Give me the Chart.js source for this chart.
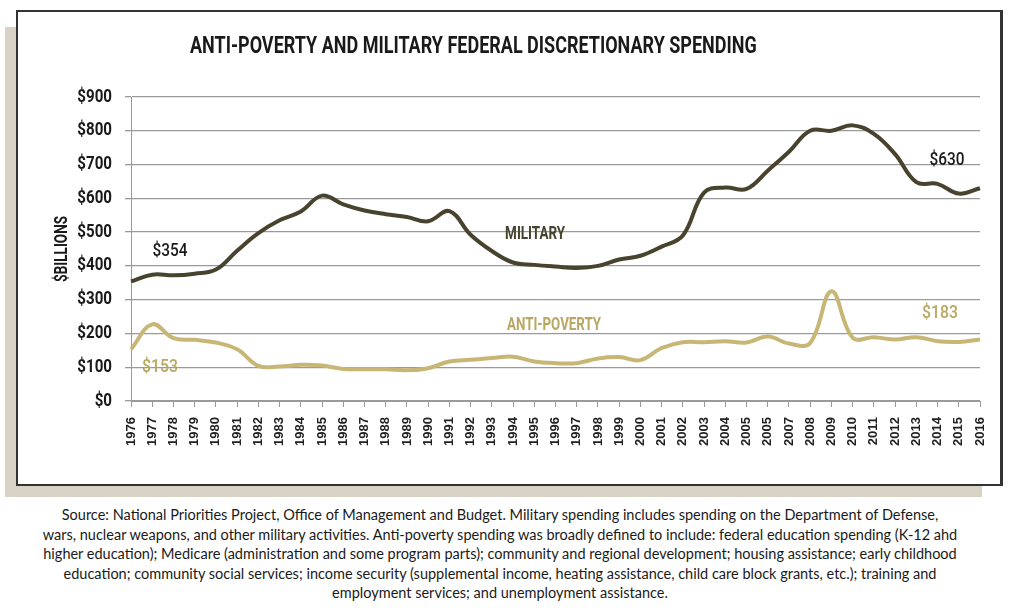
<!DOCTYPE html>
<html>
<head>
<meta charset="utf-8">
<script src="https://cdn.jsdelivr.net/npm/chart.js@4.4.0/dist/chart.umd.min.js"></script>
<style>
  body { margin: 0; background: #fff; width: 1011px; height: 610px; position: relative; overflow: hidden; }
  #shade { position: absolute; left: 5px; top: 27px; width: 977px; height: 470px; background: #d9d3c6; }
  #frame { position: absolute; left: 16px; top: 10px; width: 982px; height: 472px; border: 2px solid #333; border-right-width: 3px; background: #fff; }
  #wrap { position: absolute; left: 0; top: 0; width: 982px; height: 472px; }
  #title { position: absolute; left: 190px; top: 31px; transform-origin: 0 0; white-space: nowrap;
           font-family: Roboto, sans-serif; font-weight: bold; font-size: 24px; color: #1a1a1a; }
  #caption { position: absolute; left: 0; top: 505px; width: 1000px; text-align: center;
             font-family: Lato, 'Noto Sans', sans-serif; font-size: 14.5px; line-height: 19.6px; color: #1a1a1a; }
</style>
</head>
<body>
<div id="shade"></div>
<div id="frame">
  <div id="wrap"><canvas id="chart"></canvas></div>
</div>
<div id="title">ANTI-POVERTY AND MILITARY FEDERAL DISCRETIONARY SPENDING</div>
<div id="caption">
Source: National Priorities Project, Office of Management and Budget. Military spending includes spending on the Department of Defense,<br>
wars, nuclear weapons, and other military activities. Anti-poverty spending was broadly defined to include: federal education spending (K-12 ahd<br>
higher education); Medicare (administration and some program parts); community and regional development; housing assistance; early childhood<br>
education; community social services; income security (supplemental income, heating assistance, child care block grants, etc.); training and<br>
employment services; and unemployment assistance.
</div>
<script>
// Years (the reference prints 2006 as "2005" a second time; kept as printed)
const years = ["1976","1977","1978","1979","1980","1981","1982","1983","1984","1985",
  "1986","1987","1988","1989","1990","1991","1992","1993","1994","1995",
  "1996","1997","1998","1999","2000","2001","2002","2003","2004","2005",
  "2005","2007","2008","2009","2010","2011","2012","2013","2014","2015","2016"];

// $ billions
const military = [354, 374, 372, 377, 389, 445, 497, 535, 561, 608,
  582, 564, 553, 545, 532, 562, 492, 444, 410, 403,
  398, 394, 400, 419, 430, 457, 490, 617, 632, 628,
  682, 738, 800, 800, 816, 791, 731, 648, 643, 614, 630];

const antiPoverty = [153, 227, 186, 181, 173, 153, 104, 102, 107, 105,
  95, 94, 94, 91, 97, 117, 122, 127, 131, 117,
  112, 112, 126, 130, 121, 157, 174, 174, 177, 173,
  191, 170, 172, 325, 187, 189, 182, 189, 177, 175, 182];

const yTicks = [0, 100, 200, 300, 400, 500, 600, 700, 800, 900];

const darkColor = "#48432f";
const tanColor = "#c8b774";
const tanText = "#b8a862";

// Text notes placed in data space (year index, value)
const notes = [
  { text: "$354", x: 1.84, y: 444, color: "#1a1a1a", bold: false, w: 35 },
  { text: "$153", x: 1.37, y: 100, color: tanText, bold: false, w: 36 },
  { text: "MILITARY", x: 19.04, y: 494, color: darkColor, bold: true, w: 60 },
  { text: "ANTI-POVERTY", x: 19.93, y: 225, color: tanText, bold: true, w: 94 },
  { text: "$630", x: 38.45, y: 713, color: "#1a1a1a", bold: false, w: 35 },
  { text: "$183", x: 38.12, y: 258, color: tanText, bold: false, w: 36 }
];

// squeeze text horizontally to get the condensed poster face
function narrowText(c, text, x, y, font, color, opts) {
  c.save();
  c.font = font;
  c.fillStyle = color;
  c.textAlign = opts.align || "center";
  c.textBaseline = "middle";
  const sx = opts.width ? opts.width / c.measureText(text).width : opts.sx;
  c.translate(x, y);
  if (opts.rotate) c.rotate(opts.rotate);
  c.scale(sx, 1);
  c.fillText(text, 0, 0);
  c.restore();
}

const textPlugin = {
  id: "narrowText",
  afterDraw(chart) {
    const c = chart.ctx;
    const xs = chart.scales.x, ys = chart.scales.y;
    // y tick labels
    ys.ticks.forEach(t => {
      narrowText(c, "$" + t.value, ys.right - 19, ys.getPixelForValue(t.value),
        "bold 18px Roboto", "#1a1a1a", { align: "right", sx: 0.84 });
    });
    // axis title
    narrowText(c, "$BILLIONS", ys.left + 44, (ys.top + ys.bottom) / 2,
      "bold 18px Roboto", "#1a1a1a", { rotate: -Math.PI / 2, width: 66 });
    // notes
    notes.forEach(n => {
      narrowText(c, n.text, xs.getPixelForValue(n.x), ys.getPixelForValue(n.y),
        (n.bold ? "bold " : "500 ") + "18px Roboto", n.color, { width: n.w });
    });
  }
};

const ctx = document.getElementById("chart").getContext("2d");
new Chart(ctx, {
  type: "line",
  data: {
    labels: years,
    datasets: [
      { label: "Military", data: military, borderColor: darkColor, borderWidth: 4, tension: 0.4, pointRadius: 0, fill: false },
      { label: "Anti-poverty", data: antiPoverty, borderColor: tanColor, borderWidth: 4, tension: 0.4, pointRadius: 0, fill: false }
    ]
  },
  options: {
    responsive: true,
    maintainAspectRatio: false,
    animation: false,
    layout: { padding: { top: 85, right: 20, left: 0, bottom: 0 } },
    plugins: { legend: { display: false }, tooltip: { enabled: false } },
    scales: {
      x: {
        offset: false,
        grid: { drawOnChartArea: false, drawTicks: true, tickLength: 6, color: "#9a9a9a" },
        border: { display: true, color: "#9a9a9a" },
        ticks: { autoSkip: false, minRotation: 90, maxRotation: 90, padding: 10,
                 color: "#222", font: { family: "'Liberation Sans', Arial, sans-serif", size: 13, weight: "bold" } },
        afterFit(scale) {
          scale.height = 83;
          scale.paddingLeft = 0;
          scale.paddingRight = 0;
        }
      },
      y: {
        min: 0, max: 900,
        afterBuildTicks(scale) { scale.ticks = yTicks.map(v => ({ value: v })); },
        grid: { color: "#9a9a9a", lineWidth: 1.3, tickLength: 6 },
        border: { display: true, color: "#9a9a9a" },
        ticks: { display: false },
        afterFit(scale) { scale.width = 113; }
      }
    }
  },
  plugins: [textPlugin]
});

// fit title to the reference width
const title = document.getElementById("title");
title.style.transform = "scaleX(" + (567 / title.scrollWidth) + ")";
</script>
</body>
</html>
